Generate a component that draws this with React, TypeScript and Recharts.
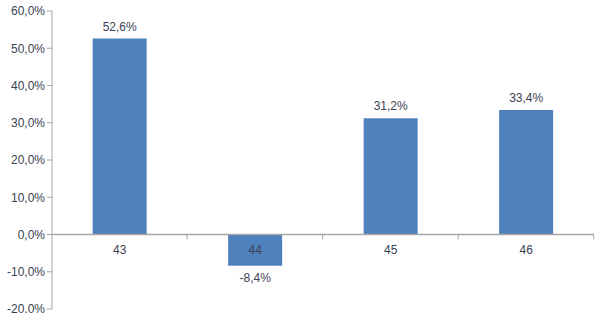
import { BarChart, Bar, XAxis, YAxis, ReferenceLine, LabelList } from "recharts";

const weeks = ["43", "44", "45", "46"];
const growth = [52.6, -8.4, 31.2, 33.4];
const yTicks = [-20, -10, 0, 10, 20, 30, 40, 50, 60];

const data = weeks.map((week, i) => ({ week, growth: growth[i] }));

const fmt = (v: number) => v.toFixed(1).replace(".", ",") + "%";

const TEXT = "#3a4352";
const AXIS = "#a6a6a6";

function BarLabels(props: any) {
  const { x, y, width, height, value, index } = props;
  const top = Math.min(y, y + height);
  const bottom = Math.max(y, y + height);
  const zeroY = value >= 0 ? bottom : top;
  const cx = x + width / 2;
  const band = width / 0.4;
  return (
    <g>
      <text
        x={cx}
        y={value >= 0 ? top - 8 : bottom + 16}
        textAnchor="middle"
        fontSize={12}
        fill={TEXT}
        fontFamily="Liberation Sans, Arial, sans-serif"
      >
        {fmt(value)}
      </text>
      <text
        x={cx}
        y={zeroY + 19}
        textAnchor="middle"
        fontSize={12}
        fill={TEXT}
        fontFamily="Liberation Sans, Arial, sans-serif"
      >
        {weeks[index]}
      </text>
      <line x1={cx + band / 2} x2={cx + band / 2} y1={zeroY} y2={zeroY + 5} stroke={AXIS} />
    </g>
  );
}

export default function App() {
  return (
    <div style={{ position: "absolute", left: 0, top: 0 }}>
      <BarChart
        width={600}
        height={313}
        data={data}
        margin={{ top: 11, right: 6, bottom: 4, left: 0 }}
        barCategoryGap="30%"
      >
        <XAxis dataKey="week" hide />
        <YAxis
          width={52}
          domain={[-20, 60]}
          ticks={yTicks}
          interval={0}
          tickFormatter={fmt}
          stroke={AXIS}
          tickSize={5}
          tick={{ fontSize: 12, fill: TEXT, fontFamily: "Liberation Sans, Arial, sans-serif" }}
        />
        <ReferenceLine y={0} stroke={AXIS} strokeWidth={1.5} />
        <Bar dataKey="growth" fill="#4f81bd" isAnimationActive={false}>
          <LabelList dataKey="growth" content={BarLabels} />
        </Bar>
      </BarChart>
    </div>
  );
}
